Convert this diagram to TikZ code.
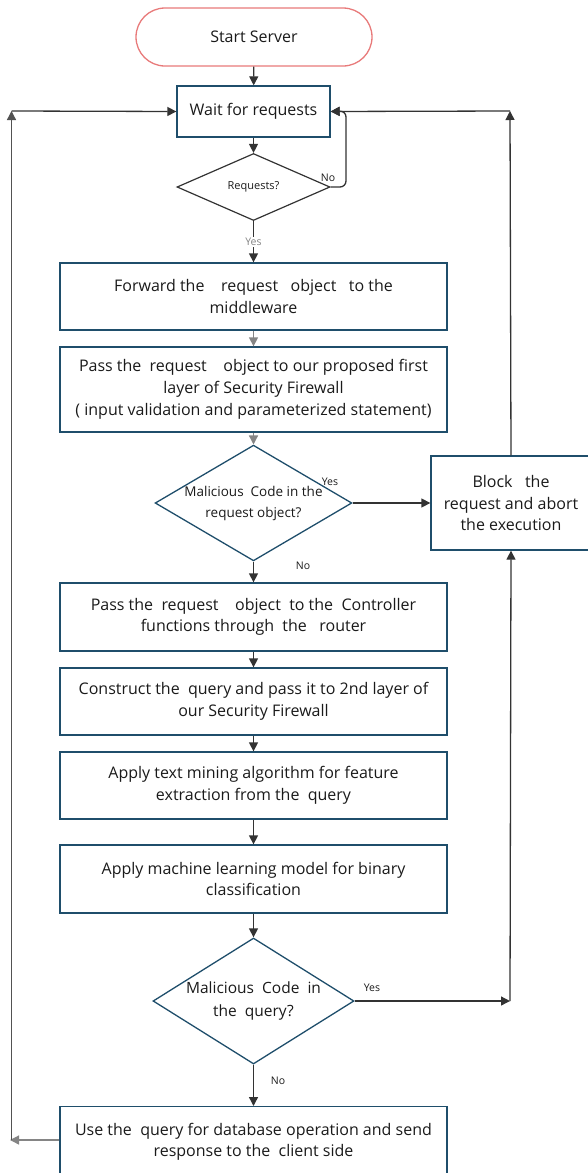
\documentclass[tikz,border=0pt]{standalone}
\usepackage{fontspec}
\setmainfont{Open Sans}
\usetikzlibrary{arrows.meta,shapes.geometric}
\definecolor{boxblue}{HTML}{1F4E6B}
\definecolor{startred}{HTML}{E87A7A}
\definecolor{linedark}{HTML}{333333}
\definecolor{linegray}{HTML}{858585}
\definecolor{txt}{HTML}{1A1A1A}
\tikzset{
  every node/.style={text=txt},
  box/.style={draw=boxblue, line width=1.3pt, inner sep=0pt, align=center,
    font=\fontsize{16}{21.5}\selectfont, minimum width=387pt},
  decision/.style={diamond, draw=boxblue, line width=1.3pt, inner sep=0pt,
    align=center},
  flow/.style={draw=linedark, line width=1.3pt,
    -{Triangle[length=9pt,width=9pt]}},
  grayflow/.style={draw=linegray, line width=1.3pt,
    -{Triangle[length=9pt,width=9pt]}},
  lbl/.style={font=\fontsize{10.5}{12}\selectfont, fill=white, inner sep=1pt},
  tag/.style={font=\fontsize{10.5}{12}\selectfont, inner sep=0pt},
}
\begin{document}
\begin{tikzpicture}[x=1pt,y=-1pt]
\useasboundingbox (0,0) rectangle (588,1173);

% terminal and first steps
\node[draw=startred, line width=1.3pt, rounded corners=29pt, minimum width=236pt,
  minimum height=58pt, inner sep=0pt, font=\fontsize{16}{19}\selectfont]
  (start) at (254,37) {Start Server};
\node[draw=boxblue, line width=1.3pt, minimum width=153pt, minimum height=51pt,
  inner sep=0pt, font=\fontsize{16}{19}\selectfont] (wait) at (253.5,111.5) {Wait for requests};
\node[diamond, draw=linedark, line width=1.2pt, minimum width=153pt,
  minimum height=67pt, aspect=2.3, inner sep=0pt, font=\fontsize{11}{13}\selectfont]
  (req) at (253.5,187) {Requests?};

% request handling
\node[box, minimum height=67pt] (fwd) at (253.5,296.5)
  {Forward the \ \ \ request \ \ object \ \ to the\\middleware};
\node[box, minimum height=85pt, font=\fontsize{16}{22}\selectfont] (first) at (253.5,389.5)
  {Pass the \ request \ \ \ object to our proposed first\\layer of Security Firewall\\( input validation and parameterized statement)};
\node[decision, minimum width=185pt, minimum height=108pt, aspect=1.7,
  font=\fontsize{13.5}{21}\selectfont] (mal1) at (253.5,503)
  {Malicious \ Code in the\\request object?};
\node[draw=boxblue, line width=1.3pt, minimum width=160pt, minimum height=94pt,
  inner sep=0pt, align=center, font=\fontsize{16}{21.5}\selectfont]
  (block) at (511,503) {Block \ \ the\\request and abort\\the execution};

% second layer
\node[box, minimum height=68pt] (ctrl) at (253.5,617)
  {Pass the \ request \ \ \ object \ to the \ Controller\\functions through \ the \ \ router};
\node[box, minimum height=67pt] (build) at (253.5,701.5)
  {Construct the \ query and pass it to 2nd layer of\\our Security Firewall};
\node[box, minimum height=67pt] (mine) at (253.5,785.5)
  {Apply text mining algorithm for feature\\extraction from the \ query};
\node[box, minimum height=68pt] (ml) at (253.5,879)
  {Apply machine learning model for binary\\classification};
\node[decision, minimum width=201pt, minimum height=126pt, aspect=1.6,
  font=\fontsize{15.5}{23}\selectfont] (mal2) at (253.5,1001)
  {Malicious \ Code \ in\\the \ query?};
\node[box, minimum height=70pt, anchor=north] (use) at (253.5,1106)
  {Use the \ query for database operation and send\\response to the \ client side};

% loop-back points
\coordinate (lout) at (10,1140);
\coordinate (lbot) at (11.5,1140);
\coordinate (ltop) at (11.5,111);
\coordinate (rtop) at (510,111);
\coordinate (rmid) at (510,1001);

% connectors
\draw[flow] (start) -- (wait);
\draw[flow] (wait) -- (req);
\draw[flow, rounded corners=6pt] (req.east) -- (346,187) -- (346,111) -- (wait.east);
\node[tag] at (328,178) {No};
\draw[flow] (req.south) -- (fwd.north)
  node[lbl, pos=0.5, text=linegray] {Yes};
\draw[grayflow] (fwd) -- (first);
\draw[grayflow] (first) -- (mal1);
\draw[flow] (mal1.east) -- (block.west);
\node[tag] at (330,482) {Yes};
\draw[flow] (mal1.south) -- (ctrl.north);
\node[tag] at (303,566) {No};
\draw[flow] (ctrl) -- (build);
\draw[flow] (build) -- (mine);
\draw[flow] (mine) -- (ml);
\draw[flow] (ml) -- (mal2);
\draw[flow] (mal2.east) -- (rmid);
\node[tag] at (372,988) {Yes};
\draw[flow] (rmid) -- (block.south);
\draw[flow] (mal2.south) -- (use.north);
\node[tag] at (278,1081) {No};
\draw[grayflow] (use.west |- lout) -- (lout);
\draw[flow, draw=linedark!85] (lbot) -- (ltop);
\draw[flow] (ltop) -- (wait.west);
\draw[flow] (block.north) -- (rtop);
\draw[flow] (rtop) -- (wait.east);
\end{tikzpicture}
\end{document}
